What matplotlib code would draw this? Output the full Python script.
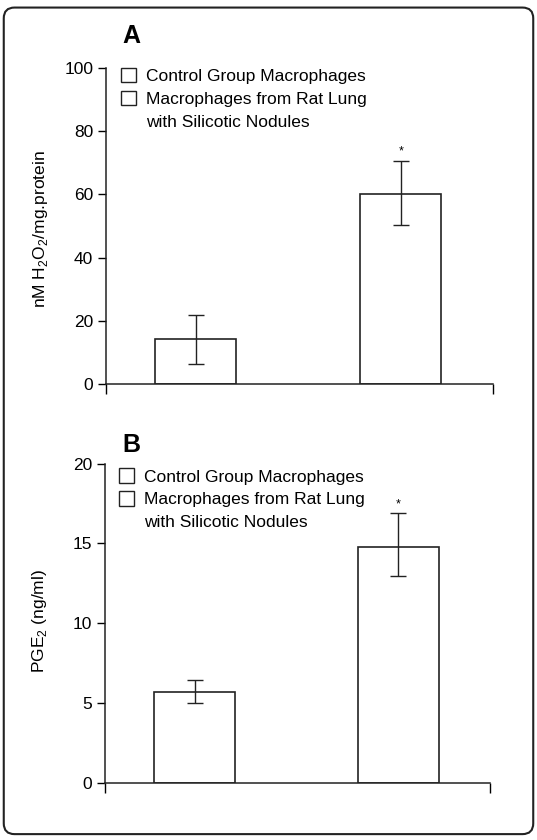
import matplotlib
matplotlib.use('Agg')
import matplotlib.pyplot as plt
from matplotlib import font_manager
from matplotlib.patches import Patch, FancyBboxPatch

# pick a narrow Helvetica-like face if we have one
names = set(f.name for f in font_manager.fontManager.ttflist)
font = 'Liberation Sans Narrow' if 'Liberation Sans Narrow' in names else 'Liberation Sans'
plt.rcParams['font.family'] = [font, 'DejaVu Sans']
plt.rcParams['mathtext.fontset'] = 'custom'
plt.rcParams['mathtext.rm'] = font

# data
groups = ['Control Group Macrophages', 'Macrophages from Rat Lung', 'with Silicotic Nodules']
h2o2_mean = [14.2, 60.0]
h2o2_low = [6.3, 50.3]
h2o2_high = [21.8, 70.6]
pge2_mean = [5.7, 14.8]
pge2_low = [5.0, 12.95]
pge2_high = [6.45, 16.9]
signif = ['', '*']

fs = 12.5
fig = plt.figure(figsize=(5.37, 8.4), dpi=100)

# rounded frame round the whole figure
frame = FancyBboxPatch((0.007, 0.007), 0.986, 0.984, boxstyle='round,pad=0,rounding_size=0.02',
                       transform=fig.transFigure, fill=False, ec='#222222', lw=1.5,
                       mutation_aspect=537/840)
fig.patches.append(frame)


def panel(rect, means, low, high, ymax, yticks, ylabel, letter, label_y, letter_y, leg_xy):
    ax = fig.add_axes(rect)
    x = [0, 1]
    err = [[m - l for m, l in zip(means, low)], [h - m for m, h in zip(means, high)]]
    ax.bar(x, means, width=0.395, color='white', edgecolor='#222222', lw=1.2, zorder=2)
    ax.errorbar(x, means, yerr=err, fmt='none', ecolor='#222222', elinewidth=1.0,
                capsize=6, capthick=1.0, zorder=3)
    for xi, h, s in zip(x, high, signif):
        if s:
            ax.text(xi, h + ymax * 0.01, s, ha='center', va='bottom', fontsize=9)
    ax.set_xlim(-0.44, 1.45)
    ax.set_ylim(0, ymax)
    ax.set_yticks(yticks)
    ax.set_xticks([-0.44, 1.45])
    ax.set_xticklabels(['', ''])
    ax.tick_params(axis='y', direction='out', length=6, width=1, labelsize=fs, pad=3)
    ax.tick_params(axis='x', direction='out', length=7, width=1)
    for s in ['top', 'right']:
        ax.spines[s].set_visible(False)
    for s in ['left', 'bottom']:
        ax.spines[s].set_linewidth(1.1)
        ax.spines[s].set_color('#222222')
    ax.set_ylabel(ylabel, fontsize=fs)
    ax.yaxis.set_label_coords(-0.145, label_y)
    # the second group's label wraps; its box sits on the first line only
    handles = [Patch(facecolor='white', edgecolor='#222222', lw=1.0),
               Patch(facecolor='white', edgecolor='#222222', lw=1.0),
               Patch(facecolor='none', edgecolor='none')]
    ax.legend(handles, groups, loc='upper left', bbox_to_anchor=leg_xy, frameon=False,
              fontsize=fs, handlelength=0.9, handleheight=0.9, handletextpad=0.55,
              labelspacing=0.38, borderpad=0, borderaxespad=0)
    ax.text(0.044, letter_y, letter, transform=ax.transAxes, fontsize=18,
            fontweight='bold', family='Liberation Sans', ha='left', va='bottom')
    return ax


panel([0.197, 0.543, 0.721, 0.376], h2o2_mean, h2o2_low, h2o2_high, 100,
      [0, 20, 40, 60, 80, 100], r'nM H$_2$O$_2$/mg.protein', 'A', 0.49, 1.063, (0.038, 1.0))
panel([0.1955, 0.068, 0.717, 0.380], pge2_mean, pge2_low, pge2_high, 20,
      [0, 5, 10, 15, 20], r'PGE$_2$ (ng/ml)', 'B', 0.506, 1.021, (0.036, 0.985))

fig.savefig('out.png', dpi=100)
